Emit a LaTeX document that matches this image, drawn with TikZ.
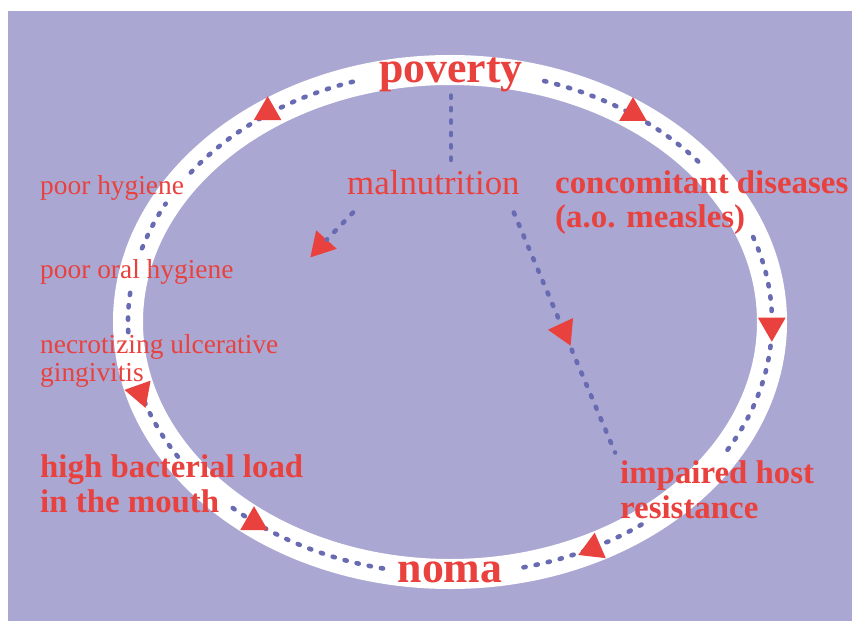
\documentclass[tikz,border=0pt]{standalone}
\usepackage{fontspec}
\setmainfont{Liberation Serif}
\usepackage{xcolor}
\usepackage{tikz}
\usetikzlibrary{shapes.geometric}

\definecolor{bgviolet}{HTML}{AAA8D3}
\definecolor{nomared}{HTML}{E9413E}
\definecolor{dotblue}{HTML}{686AB2}

\begin{document}
\begin{tikzpicture}[x=1bp,y=-1bp,
  lab/.style={text=nomared,inner sep=3bp,align=left},
  mainlab/.style={lab,font=\bfseries\fontsize{44}{46}\selectfont},
  boldlab/.style={lab,font=\bfseries\fontsize{33}{35}\selectfont},
  smalllab/.style={lab,font=\fontsize{27.5}{28}\selectfont},
  midlab/.style={lab,font=\fontsize{35}{36}\selectfont},
  tri/.style={regular polygon,regular polygon sides=3,fill=nomared,
    inner sep=0pt,minimum size=32bp},
  dots/.style={dotblue,line width=4.6bp,line cap=round,
    dash pattern=on 2.2bp off 10.2bp}]
\useasboundingbox (0,0) rectangle (852,622);
\fill[bgviolet] (8,11) rectangle (852,621);
\draw[white,line width=30bp] (450,322) ellipse [x radius=322,y radius=252];
% dotted cycle on the ring, broken where the labels sit
\foreach \a/\b in {-73/-38.5,-19.7/31.8,53.5/77.4,102/133,147.7/165,
    177.7/187.7,197/208,216.4/253}
  \draw[dots] plot[domain=\a:\b,samples=60] ({450+322*cos(\x)},{322+252*sin(\x)});

% two-line labels sit on the baseline of their last line
\node[mainlab,anchor=base] (poverty) at (451,83) {poverty};
\node[mainlab,anchor=base] (noma) at (450,582) {noma};
\node[midlab,anchor=base west] (malnut) at (344,195) {malnutrition};
\node[boldlab,anchor=base west] (concom) at (552,228) {concomitant diseases\\(a.o. measles)};
\node[boldlab,anchor=base west] (impaired) at (617,518) {impaired host\\resistance};
\node[boldlab,anchor=base west] (bacterial) at (37,512) {high bacterial load\\in the mouth};
\node[smalllab,anchor=base west] (nug) at (37,381) {necrotizing ulcerative\\gingivitis};
\node[smalllab,anchor=base west] (oralhyg) at (37,278) {poor oral hygiene};
\node[smalllab,anchor=base west] (hyg) at (37,195) {poor hygiene};

% arrow heads on the ring
\node[tri] (t1) at (267.6,112.2) {};
\node[tri] (t2) at (633,113) {};
\node[tri,rotate=180] (t3) at (771.8,325.7) {};
\node[tri,rotate=-160.5] (t4) at (140.2,392.8) {};
\node[tri] (t5) at (254,522.2) {};
\node[tri,rotate=-6.5] (t6) at (592.9,548.6) {};
\node[tri,rotate=18] (arrL) at (321.1,245.5) {};

\draw[dots] (poverty.south) -- (poverty.south |- malnut.north);
\draw[dots] ([shift={(9,14)}]malnut.south west) -- (arrL);
\draw[dots,shorten >=5bp] ([shift={(-9,14)}]malnut.south east) -- (impaired.north west)
  node[tri,pos=.485,rotate=-35] (arrR) {};
\end{tikzpicture}
\end{document}
